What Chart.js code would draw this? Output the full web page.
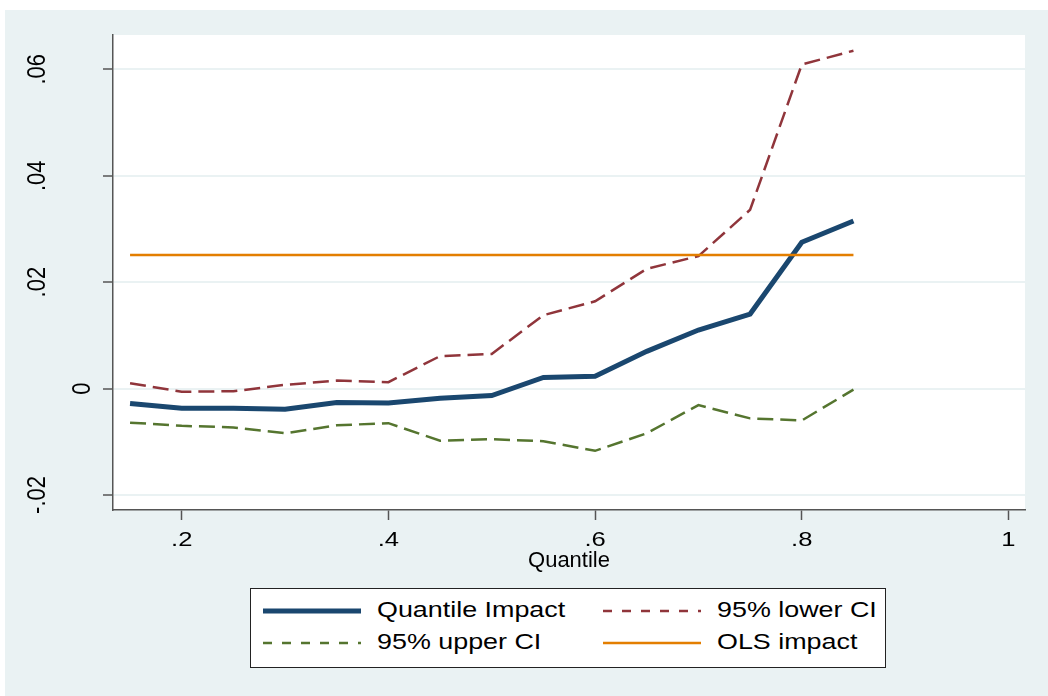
<!DOCTYPE html>
<html>
<head>
<meta charset="utf-8">
<script src="https://cdn.jsdelivr.net/npm/chart.js@4/dist/chart.umd.min.js"></script>
<style>
  html, body { margin: 0; padding: 0; background: #fff; }
  #page { position: relative; width: 1048px; height: 696px; overflow: hidden; background: #fff;
          font-family: "Liberation Sans", Arial, sans-serif; }
  #bg { position: absolute; left: 5px; top: 10px; right: 0; bottom: 0; background: #eaf2f3; }
  #wrap { position: absolute; left: 0; top: 0; width: 1048px; height: 696px; }
  #legend { position: absolute; left: 250px; top: 588px; width: 634px; height: 78px;
            border: 1px solid #222; background: #fff; }
  .sample { position: absolute; }
  .label { position: absolute; font-size: 21.5px; line-height: 21.5px; color: #000;
           white-space: nowrap; transform: scaleX(1.25); transform-origin: left top; }
</style>
</head>
<body>
<div id="page">
  <div id="bg"></div>
  <div id="wrap"><canvas id="chart" width="1048" height="696"></canvas></div>
  <div id="legend"></div>
</div>
<script>
// values
const quantiles = [0.15, 0.20, 0.25, 0.30, 0.35, 0.40, 0.45, 0.50, 0.55, 0.60, 0.65, 0.70, 0.75, 0.80, 0.85];
const quantileImpact = [-0.0028, -0.0037, -0.0037, -0.0039, -0.0026, -0.0027, -0.0018, -0.0013, 0.0021, 0.0023, 0.0070, 0.0110, 0.0140, 0.0275, 0.0315];
const lowerCI = [0.0010, -0.0006, -0.0005, 0.0007, 0.0015, 0.0012, 0.0061, 0.0065, 0.0138, 0.0164, 0.0225, 0.0249, 0.0336, 0.0609, 0.0635];
const upperCI = [-0.0064, -0.0070, -0.0073, -0.0084, -0.0069, -0.0065, -0.0098, -0.0095, -0.0099, -0.0117, -0.0084, -0.0031, -0.0056, -0.0060, -0.0002];
const olsImpact = 0.0251;

const xTicks = [0.2, 0.4, 0.6, 0.8, 1];
const yTicks = [-0.02, 0, 0.02, 0.04, 0.06];
const seriesNames = ['Quantile Impact', '95% lower CI', '95% upper CI', 'OLS impact'];

const FONT = '"Liberation Sans", Arial, sans-serif';
const BG = '#eaf2f3';
const AXIS = '#555';

const fmt = v => (v === 0 ? '0' : String(+v.toFixed(2)).replace('0.', '.'));
const toPoints = arr => quantiles.map((q, i) => ({ x: q, y: arr[i] }));

const datasets = [
  { label: seriesNames[0], data: toPoints(quantileImpact), borderColor: '#1a476f', borderWidth: 5, order: 4, legendDash: [] },
  { label: seriesNames[1], data: toPoints(lowerCI), borderColor: '#90353b', borderWidth: 2.5, borderDash: [16, 7], order: 3, legendDash: [9, 10] },
  { label: seriesNames[2], data: toPoints(upperCI), borderColor: '#55752f', borderWidth: 2.5, borderDash: [16, 7], order: 2, legendDash: [9, 10] },
  { label: seriesNames[3], data: [{ x: quantiles[0], y: olsImpact }, { x: quantiles[quantiles.length - 1], y: olsImpact }],
    borderColor: '#e37e00', borderWidth: 2.5, order: 1, legendDash: [] },
];
datasets.forEach(d => { d.pointRadius = 0; d.tension = 0; d.fill = false; d.borderCapStyle = 'butt'; });

const plotBg = {
  id: 'plotBg',
  beforeDraw(chart) {
    const { ctx, chartArea: a } = chart;
    ctx.save();
    ctx.fillStyle = '#fff';
    ctx.fillRect(a.left, a.top, a.right - a.left, a.bottom - a.top);
    ctx.restore();
  },
};

// tick labels drawn a bit wide, like the exported original
const axisLabels = {
  id: 'axisLabels',
  afterDraw(chart) {
    const { x: sx, y: sy } = chart.scales;
    const ctx = chart.ctx;
    ctx.save();
    ctx.fillStyle = '#000';
    ctx.textAlign = 'center';
    ctx.textBaseline = 'middle';

    // y: vertical, reading bottom to top
    ctx.font = '22px ' + FONT;
    sy.ticks.forEach(t => {
      const label = fmt(t.value);
      ctx.save();
      ctx.translate(sy.left + (label === '0' ? 83 : 38), sy.getPixelForValue(t.value));
      ctx.scale(1.15, 1);
      ctx.rotate(-Math.PI / 2);
      ctx.fillText(label, 0, 0);
      ctx.restore();
    });

    // x
    ctx.font = '20px ' + FONT;
    sx.ticks.forEach(t => {
      ctx.save();
      ctx.translate(sx.getPixelForValue(t.value), sx.top + 30);
      ctx.scale(1.28, 1);
      ctx.fillText(fmt(t.value), 0, 0);
      ctx.restore();
    });
    ctx.restore();
  },
};

const chart = new Chart(document.getElementById('chart').getContext('2d'), {
  type: 'line',
  data: { datasets },
  options: {
    responsive: false,
    animation: false,
    layout: { padding: { left: 0, top: 35, right: 23, bottom: 116 } },
    plugins: { legend: { display: false }, tooltip: { enabled: false } },
    scales: {
      x: {
        type: 'linear',
        min: 0.1335,
        max: 1.016,
        afterBuildTicks: s => { s.ticks = xTicks.map(v => ({ value: v })); },
        afterFit: s => { s.height = 70; },
        ticks: { display: false },
        grid: { drawOnChartArea: false, tickLength: 10, tickColor: AXIS, tickWidth: 1.5 },
        border: { color: AXIS, width: 1.5 },
        title: { display: true, text: 'Quantile', color: '#000', font: { family: FONT, size: 22 }, padding: { top: 0, bottom: 6 } },
      },
      y: {
        min: -0.02282,
        max: 0.06645,
        afterBuildTicks: s => { s.ticks = yTicks.map(v => ({ value: v })); },
        afterFit: s => { s.width = 113; },
        ticks: { display: false },
        grid: { color: BG, lineWidth: 2, tickLength: 10, tickColor: AXIS, tickWidth: 1.5 },
        border: { color: AXIS, width: 1.5 },
      },
    },
  },
  plugins: [plotBg, axisLabels],
});

// legend box, two columns
const legend = document.getElementById('legend');
const SVGNS = 'http://www.w3.org/2000/svg';
datasets.forEach((d, i) => {
  const col = i % 2, row = Math.floor(i / 2);
  const sx = col === 0 ? 11.7 : 352;
  const tx = col === 0 ? 126 : 466;
  const cy = row === 0 ? 21.7 : 53.7;

  const svg = document.createElementNS(SVGNS, 'svg');
  svg.setAttribute('class', 'sample');
  svg.setAttribute('width', 98);
  svg.setAttribute('height', 12);
  svg.style.left = sx + 'px';
  svg.style.top = (cy - 6) + 'px';
  const line = document.createElementNS(SVGNS, 'line');
  line.setAttribute('x1', 0); line.setAttribute('x2', 98);
  line.setAttribute('y1', 6); line.setAttribute('y2', 6);
  line.setAttribute('stroke', d.borderColor);
  line.setAttribute('stroke-width', d.borderWidth);
  if (d.legendDash.length) line.setAttribute('stroke-dasharray', d.legendDash.join(' '));
  svg.appendChild(line);
  legend.appendChild(svg);

  const span = document.createElement('span');
  span.className = 'label';
  span.textContent = d.label;
  span.style.left = tx + 'px';
  span.style.top = (cy - 10.5) + 'px';
  legend.appendChild(span);
});
</script>
</body>
</html>
